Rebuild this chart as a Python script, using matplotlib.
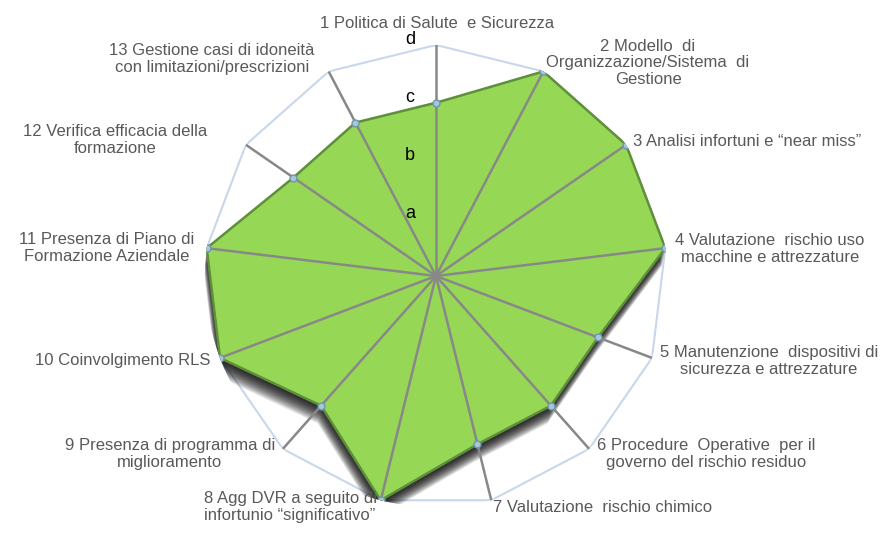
import numpy as np
import matplotlib.pyplot as plt
import matplotlib.transforms as mtransforms

plt.rcParams['font.family'] = ['Liberation Sans', 'DejaVu Sans']

categories = [
    "1 Politica di Salute  e Sicurezza",
    "2 Modello  di\nOrganizzazione/Sistema  di\nGestione",
    "3 Analisi infortuni e \u201cnear miss\u201d",
    "4 Valutazione  rischio uso\nmacchine e attrezzature",
    "5 Manutenzione  dispositivi di\nsicurezza e attrezzature",
    "6 Procedure  Operative  per il\ngoverno del rischio residuo",
    "7 Valutazione  rischio chimico",
    "8 Agg DVR a seguito di\ninfortunio \u201csignificativo\u201d",
    "9 Presenza di programma di\nmiglioramento",
    "10 Coinvolgimento RLS",
    "11 Presenza di Piano di\nFormazione Aziendale",
    "12 Verifica efficacia della\nformazione",
    "13 Gestione casi di idoneit\u00e0\ncon limitazioni/prescrizioni",
]
values = [3, 4, 4, 4, 3, 3, 3, 4, 3, 4, 4, 3, 3]
levels = [1, 2, 3, 4]
level_labels = ["a", "b", "c", "d"]

W, H = 889, 533
fig = plt.figure(figsize=(W / 100, H / 100), dpi=100)

cx, cy, R = 436, 276, 231
ax = fig.add_axes([(cx - R) / W, (H - cy - R) / H, 2 * R / W, 2 * R / H],
                  projection='polar')
ax.set_theta_zero_location('N')
ax.set_theta_direction(-1)
ax.set_ylim(0, 4)
ax.set_axis_off()

n = len(categories)
theta = np.arange(n) * 2 * np.pi / n
tc = np.append(theta, theta[0])
vc = np.append(values, values[0])

# grid rings
for lv in levels:
    ax.plot(tc, [lv] * (n + 1), color='#c8d7ea', lw=1.5, zorder=1)

# soft shadow under the polygon
for k in range(30):
    off = mtransforms.ScaledTranslation(-0.0012 * k, -(0.02 + 0.0055 * k),
                                        fig.dpi_scale_trans)
    ax.fill(tc, vc, color='black', alpha=0.05, lw=0,
            transform=ax.transData + off, zorder=2)

ax.fill(tc, vc, color='#96d855', edgecolor='#5f8f3a', lw=1.8, zorder=3)

# spokes
for t in theta:
    ax.plot([t, t], [0, 4], color='#888888', lw=1.8, zorder=4)

ax.plot(theta, values, 'o', ms=5, mfc='#a9c6d6', mec='#6a97b0', mew=1, zorder=5)

# level letters
for lv, lab in zip(levels, level_labels):
    fig.text(410 / W, 1 - (cy - lv * R / 4 - 5) / H, lab, fontsize=13,
             color='black', ha='center', va='center', zorder=6)

# category labels (pixel positions, center of text block)
label_pos = [
    (437, 23, 'center'), (648, 63, 'center'), (633, 141, 'left'),
    (770, 249, 'center'), (769, 361, 'center'), (706, 454, 'center'),
    (493, 508, 'left'), (290, 507, 'center'), (170, 454, 'center'),
    (210, 360, 'right'), (107, 248, 'center'), (115, 140, 'center'),
    (212, 59, 'center'),
]
for lab, (x, y, ha) in zip(categories, label_pos):
    fig.text(x / W, 1 - y / H, lab, fontsize=12, color='#595959',
             ha=ha, va='center', multialignment='center', linespacing=1.15)

fig.savefig('out.png', dpi=100)
